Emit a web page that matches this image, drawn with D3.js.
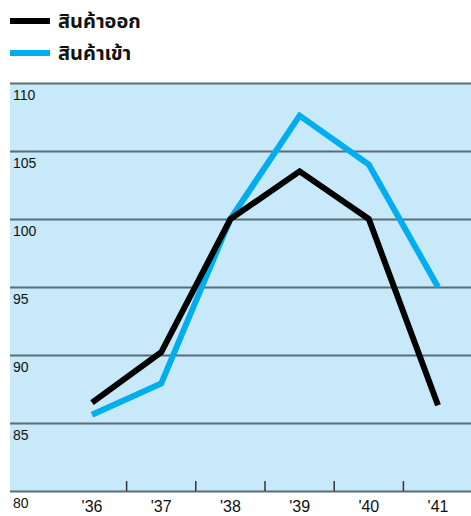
<!DOCTYPE html>
<html>
<head>
<meta charset="utf-8">
<script src="https://cdn.jsdelivr.net/npm/d3@7"></script>
<style>
  html, body { margin: 0; padding: 0; background: #ffffff; }
  svg { display: block; }
</style>
</head>
<body>
<svg id="chart" width="471" height="516"></svg>
<script>
// Trade volume index, 1936–1941
const years = ["'36", "'37", "'38", "'39", "'40", "'41"];
const exportsIdx = [86.5, 90.2, 100, 103.5, 100, 86.3];
const importsIdx = [85.6, 87.9, 100, 107.6, 104.0, 95.0];
const yTicks = [80, 85, 90, 95, 100, 105, 110];
const seriesNames = ["สินค้าออก", "สินค้าเข้า"];
const seriesColors = ["#000000", "#00aeef"];

const svg = d3.select("#chart");
const plot = { left: 10, right: 471, top: 83, bottom: 491 };

const y = d3.scaleLinear().domain([80, 110]).range([plot.bottom, plot.top]);
const xBand = d3.scaleBand().domain(years).range([57.4, 472.6]).padding(0);
const x = d => xBand(d) + xBand.bandwidth() / 2;

// panel background
svg.append("rect")
  .attr("x", plot.left).attr("y", plot.top)
  .attr("width", plot.right - plot.left).attr("height", plot.bottom - plot.top)
  .attr("fill", "#c7e9f9");

// horizontal gridlines with labels beneath each line
const yAxis = d3.axisLeft(y).tickValues(yTicks).tickSize(-(plot.right - plot.left)).tickFormat(d3.format("d"));
const gy = svg.append("g").attr("transform", `translate(${plot.left},0)`).call(yAxis);
gy.select(".domain").remove();
gy.selectAll(".tick line").attr("stroke", "#5b6d77").attr("stroke-width", 2);
gy.selectAll(".tick text")
  .attr("x", 3).attr("dy", 0).attr("y", 16)
  .attr("text-anchor", "start")
  .attr("fill", "#111")
  .style("font-family", "Liberation Sans, Arial, sans-serif")
  .style("font-size", "14px");

// category separators on the baseline
const sep = years.slice(1).map(d => xBand(d));
svg.append("g").selectAll("line").data(sep).join("line")
  .attr("x1", d => d).attr("x2", d => d)
  .attr("y1", plot.bottom - 10).attr("y2", plot.bottom)
  .attr("stroke", "#333").attr("stroke-width", 1.5);

// x labels
const xAxis = d3.axisBottom(xBand).tickSize(0);
const gx = svg.append("g").attr("transform", `translate(0,${plot.bottom})`).call(xAxis);
gx.select(".domain").remove();
gx.selectAll(".tick text")
  .attr("y", 21).attr("dy", 0)
  .attr("fill", "#111")
  .style("font-family", "Liberation Sans, Arial, sans-serif")
  .style("font-size", "16px");

// series lines (imports first so exports sit on top)
const line = d3.line().x((d, i) => x(years[i])).y(d => y(d));
[importsIdx, exportsIdx].forEach((vals, j) => {
  const k = 1 - j;
  svg.append("path")
    .datum(vals)
    .attr("d", line)
    .attr("fill", "none")
    .attr("stroke", seriesColors[k])
    .attr("stroke-width", 6)
    .attr("stroke-linejoin", "miter");
});

// legend
const leg = svg.append("g");
seriesNames.forEach((name, k) => {
  const cy = 21 + k * 32;
  leg.append("line")
    .attr("x1", 10).attr("x2", 50).attr("y1", cy).attr("y2", cy)
    .attr("stroke", seriesColors[k]).attr("stroke-width", 6);
  leg.append("text")
    .attr("x", 58).attr("y", cy + 7)
    .attr("fill", "#111")
    .style("font-family", "Noto Sans Thai, Noto Sans, DejaVu Sans, sans-serif")
    .style("font-weight", "bold")
    .style("font-size", "20px")
    .text(name);
});
</script>
</body>
</html>
